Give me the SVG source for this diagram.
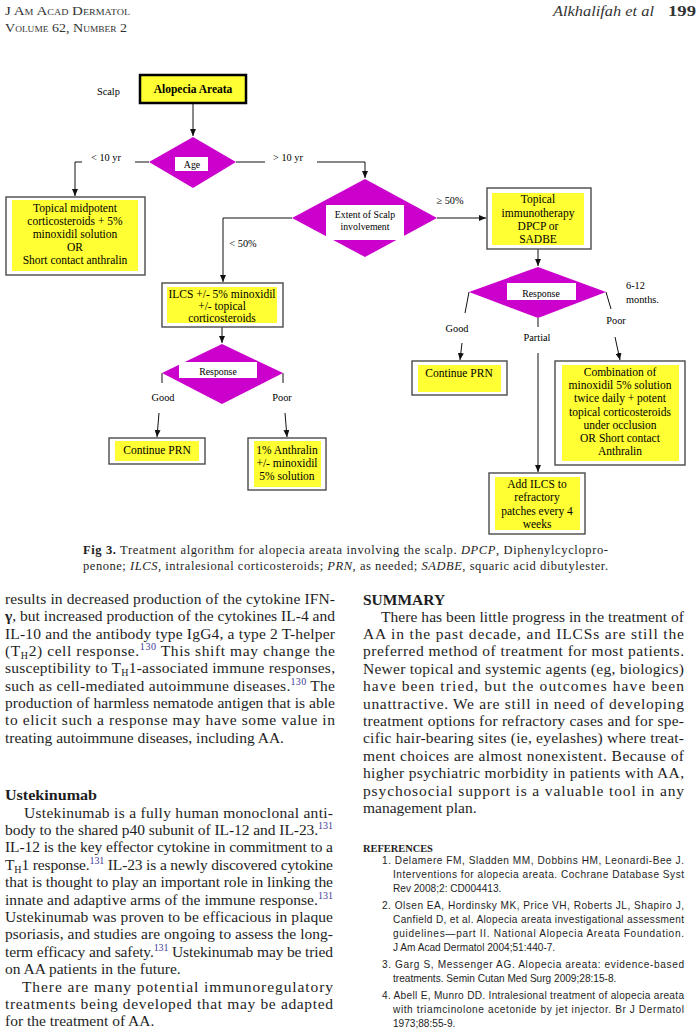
<svg xmlns="http://www.w3.org/2000/svg" width="700" height="1032" viewBox="0 0 700 1032">
<style>
.n{font-family:"Liberation Serif","Times New Roman",serif;font-size:11.5px;text-anchor:middle;fill:#000}
.dt{font-family:"Liberation Serif","Times New Roman",serif;font-size:9.8px;text-anchor:middle;fill:#000}
.lbl{font-family:"Liberation Serif","Times New Roman",serif;font-size:10.3px;fill:#000}
.box{fill:#fff;stroke:#4a4a4a;stroke-width:1.4}
.yel{fill:#ffff33}
.dia{fill:#cc00cc}
.inner{fill:#fff}
.c{fill:none;stroke:#111;stroke-width:1}
.ca{fill:none;stroke:#111;stroke-width:1;marker-end:url(#ah)}
.body{font-family:"Liberation Serif","Times New Roman",serif;font-size:15.5px;fill:#1e1e1e}
.ref{font-family:"Liberation Sans",Arial,sans-serif;font-size:10.1px;fill:#1e1e1e}
.cap{font-family:"Liberation Serif","Times New Roman",serif;font-size:12.5px;fill:#1e1e1e}
.hd{font-family:"Liberation Serif","Times New Roman",serif;fill:#333}
.sup{fill:#3c3c96;font-size:10px}
.sub{font-size:10px}
</style>
<defs>
<marker id="ah" markerUnits="userSpaceOnUse" markerWidth="7" markerHeight="6" refX="7" refY="3" orient="auto">
<path d="M0,0 L7,3 L0,6 z" fill="#111"/>
</marker>
</defs>
<rect width="700" height="1032" fill="#fff"/>

<!-- header -->
<g id="header">
<text class="hd" x="5" y="15" font-size="13.5" font-variant="small-caps" textLength="125" lengthAdjust="spacingAndGlyphs">J Am Acad Dermatol</text>
<text class="hd" x="5" y="32" font-size="13.5" font-variant="small-caps" textLength="122" lengthAdjust="spacingAndGlyphs">Volume 62, Number 2</text>
<text class="hd" x="553" y="16" font-size="14.5" font-style="italic" textLength="101" lengthAdjust="spacingAndGlyphs">Alkhalifah et al</text>
<text class="hd" x="668" y="16" font-size="14.5" font-weight="bold" textLength="28" lengthAdjust="spacingAndGlyphs">199</text>
</g>

<!-- connectors -->
<g id="connectors">
<path class="ca" d="M193,103 V136"/>
<path class="c" d="M149,162 H135"/>
<path class="ca" d="M82,162 H75 V196"/>
<path class="c" d="M236,162 H265"/>
<path class="ca" d="M317,162 H365 V178"/>
<path class="ca" d="M292,218 H223 V282"/>
<path class="ca" d="M437,218 H486"/>
<path class="ca" d="M538,249 V266"/>
<path class="c" d="M469,292 L465,313"/>
<path class="ca" d="M462,343 L460,360"/>
<path class="c" d="M538,318 V327"/>
<path class="ca" d="M538,353 V472"/>
<path class="c" d="M606,292 L611,309"/>
<path class="ca" d="M615,337 L620,360"/>
<path class="ca" d="M222,327 V343"/>
<path class="c" d="M162,373 V383"/>
<path class="ca" d="M159,413 L157,437"/>
<path class="c" d="M283,373 V383"/>
<path class="ca" d="M285,413 L287,437"/>
</g>

<!-- labels -->
<g id="labels">
<text class="lbl" x="97" y="95">Scalp</text>
<text class="lbl" x="106" y="160.5" text-anchor="middle">&lt; 10 yr</text>
<text class="lbl" x="288" y="160.5" text-anchor="middle">&gt; 10 yr</text>
<text class="lbl" x="243" y="247" text-anchor="middle">&lt; 50%</text>
<text class="lbl" x="450" y="204" text-anchor="middle">&#8805; 50%</text>
<text class="lbl" x="626" y="289">6-12</text>
<text class="lbl" x="626" y="303">months.</text>
<text class="lbl" x="457" y="331.5" text-anchor="middle">Good</text>
<text class="lbl" x="537" y="340.5" text-anchor="middle">Partial</text>
<text class="lbl" x="616" y="323.5" text-anchor="middle">Poor</text>
<text class="lbl" x="163" y="400.5" text-anchor="middle">Good</text>
<text class="lbl" x="282" y="400.5" text-anchor="middle">Poor</text>
</g>

<!-- nodes -->
<g id="alopecia-areata">
<rect x="140" y="75" width="106" height="28" fill="#ffff33" stroke="#000" stroke-width="2.5"/>
<text class="n" x="193" y="93" font-weight="bold">Alopecia Areata</text>
</g>

<g id="age">
<polygon class="dia" points="193,137 236,162 193,188 149,162"/>
<rect class="inner" x="175" y="157" width="33" height="14"/>
<text class="dt" x="192" y="167.5">Age</text>
</g>

<g id="topical-midpotent">
<rect class="box" x="6" y="197" width="139" height="78"/>
<rect class="yel" x="12" y="200" width="126" height="71"/>
<text class="n" x="75" y="212">Topical midpotent</text>
<text class="n" x="75" y="225">corticosteroids + 5%</text>
<text class="n" x="75" y="238">minoxidil solution</text>
<text class="n" x="75" y="251">OR</text>
<text class="n" x="75" y="264">Short contact anthralin</text>
</g>

<g id="extent">
<polygon class="dia" points="365,179 437,218 365,257 292,218"/>
<rect class="inner" x="326" y="205" width="78" height="35"/>
<text class="dt" x="365" y="218">Extent of Scalp</text>
<text class="dt" x="365" y="230">involvement</text>
</g>

<g id="topical-immunotherapy">
<rect class="box" x="487" y="188" width="104" height="61"/>
<rect class="yel" x="492" y="193" width="92" height="52"/>
<text class="n" x="538" y="203">Topical</text>
<text class="n" x="538" y="217">immunotherapy</text>
<text class="n" x="538" y="230">DPCP or</text>
<text class="n" x="538" y="243">SADBE</text>
</g>

<g id="response-right">
<polygon class="dia" points="538,267 606,292 538,318 469,292"/>
<rect class="inner" x="507" y="283" width="69" height="17"/>
<text class="dt" x="541" y="296.5" font-size="10.3">Response</text>
</g>

<g id="ilcs">
<rect class="box" x="162" y="283" width="121" height="44"/>
<rect class="yel" x="167" y="287" width="110" height="36"/>
<text class="n" x="222" y="298">ILCS +/- 5% minoxidil</text>
<text class="n" x="222" y="310">+/- topical</text>
<text class="n" x="222" y="322">corticosteroids</text>
</g>

<g id="response-left">
<polygon class="dia" points="222,344 283,373 222,404 162,373"/>
<rect class="inner" x="179" y="362" width="78" height="16"/>
<text class="dt" x="218" y="374.5" font-size="10.3">Response</text>
</g>

<g id="continue-prn-left">
<rect class="box" x="109" y="438" width="96" height="26"/>
<rect class="yel" x="115" y="441" width="84" height="20"/>
<text class="n" x="157" y="454">Continue PRN</text>
</g>

<g id="anthralin">
<rect class="box" x="248" y="438" width="78" height="52"/>
<rect class="yel" x="254" y="441" width="67" height="46"/>
<text class="n" x="287" y="454">1% Anthralin</text>
<text class="n" x="287" y="467">+/- minoxidil</text>
<text class="n" x="287" y="480">5% solution</text>
</g>

<g id="continue-prn-right">
<rect class="box" x="412" y="361" width="95" height="34"/>
<rect class="yel" x="418" y="365" width="83" height="27"/>
<text class="n" x="459" y="377">Continue PRN</text>
</g>

<g id="combination">
<rect class="box" x="555" y="361" width="130" height="104"/>
<rect class="yel" x="562" y="365" width="117" height="96"/>
<text class="n" x="620" y="376">Combination of</text>
<text class="n" x="620" y="389">minoxidil 5% solution</text>
<text class="n" x="620" y="402">twice daily + potent</text>
<text class="n" x="620" y="416">topical corticosteroids</text>
<text class="n" x="620" y="429">under occlusion</text>
<text class="n" x="620" y="442">OR Short contact</text>
<text class="n" x="620" y="455">Anthralin</text>
</g>

<g id="add-ilcs">
<rect class="box" x="489" y="473" width="96" height="61"/>
<rect class="yel" x="495" y="477" width="85" height="53"/>
<text class="n" x="537" y="488">Add ILCS to</text>
<text class="n" x="537" y="501">refractory</text>
<text class="n" x="537" y="515">patches every 4</text>
<text class="n" x="537" y="528">weeks</text>
</g>

<!-- caption -->
<g id="caption">
<text class="cap" x="83" y="554" textLength="525" lengthAdjust="spacing"><tspan font-weight="bold">Fig 3.</tspan> Treatment algorithm for alopecia areata involving the scalp. <tspan font-style="italic">DPCP</tspan>, Diphenylcyclopro-</text>
<text class="cap" x="83" y="570" textLength="525" lengthAdjust="spacing">penone; <tspan font-style="italic">ILCS</tspan>, intralesional corticosteroids; <tspan font-style="italic">PRN</tspan>, as needed; <tspan font-style="italic">SADBE</tspan>, squaric acid dibutylester.</text>
</g>

<!-- left column -->
<g id="left-column">
<text class="body" x="5" y="604" textLength="330" lengthAdjust="spacing">results in decreased production of the cytokine IFN-</text>
<text class="body" x="5" y="621.4" textLength="330" lengthAdjust="spacing"><tspan font-weight="bold">γ</tspan>, but increased production of the cytokines IL-4 and</text>
<text class="body" x="5" y="638.7" textLength="330" lengthAdjust="spacing">IL-10 and the antibody type IgG4, a type 2 T-helper</text>
<text class="body" x="5" y="656" textLength="330" lengthAdjust="spacing">(T<tspan class="sub" dy="3">H</tspan><tspan dy="-3">2) cell response.</tspan><tspan class="sup" dy="-6">130</tspan><tspan dy="6"> This shift may change the</tspan></text>
<text class="body" x="5" y="673.4" textLength="330" lengthAdjust="spacing">susceptibility to T<tspan class="sub" dy="3">H</tspan><tspan dy="-3">1-associated immune responses,</tspan></text>
<text class="body" x="5" y="690.7" textLength="330" lengthAdjust="spacing">such as cell-mediated autoimmune diseases.<tspan class="sup" dy="-6">130</tspan><tspan dy="6"> The</tspan></text>
<text class="body" x="5" y="708" textLength="330" lengthAdjust="spacing">production of harmless nematode antigen that is able</text>
<text class="body" x="5" y="725.4" textLength="330" lengthAdjust="spacing">to elicit such a response may have some value in</text>
<text class="body" x="5" y="742.8">treating autoimmune diseases, including AA.</text>

<text class="body" x="5" y="800" font-weight="bold" textLength="92" lengthAdjust="spacingAndGlyphs">Ustekinumab</text>
<text class="body" x="24" y="817.5" textLength="309" lengthAdjust="spacing">Ustekinumab is a fully human monoclonal anti-</text>
<text class="body" x="5" y="834.9" textLength="328" lengthAdjust="spacing">body to the shared p40 subunit of IL-12 and IL-23.<tspan class="sup" dy="-6">131</tspan></text>
<text class="body" x="5" y="852.3" textLength="328" lengthAdjust="spacing">IL-12 is the key effector cytokine in commitment to a</text>
<text class="body" x="5" y="869.7" textLength="328" lengthAdjust="spacing">T<tspan class="sub" dy="3">H</tspan><tspan dy="-3">1 response.</tspan><tspan class="sup" dy="-6">131</tspan><tspan dy="6"> IL-23 is a newly discovered cytokine</tspan></text>
<text class="body" x="5" y="887.1" textLength="328" lengthAdjust="spacing">that is thought to play an important role in linking the</text>
<text class="body" x="5" y="904.5" textLength="328" lengthAdjust="spacing">innate and adaptive arms of the immune response.<tspan class="sup" dy="-6">131</tspan></text>
<text class="body" x="5" y="921.9" textLength="328" lengthAdjust="spacing">Ustekinumab was proven to be efficacious in plaque</text>
<text class="body" x="5" y="939.3" textLength="328" lengthAdjust="spacing">psoriasis, and studies are ongoing to assess the long-</text>
<text class="body" x="5" y="956.7" textLength="328" lengthAdjust="spacing">term efficacy and safety.<tspan class="sup" dy="-6">131</tspan><tspan dy="6"> Ustekinumab may be tried</tspan></text>
<text class="body" x="5" y="974.1">on AA patients in the future.</text>
<text class="body" x="22" y="991.5" textLength="311" lengthAdjust="spacing">There are many potential immunoregulatory</text>
<text class="body" x="5" y="1008.9" textLength="328" lengthAdjust="spacing">treatments being developed that may be adapted</text>
<text class="body" x="5" y="1026.3">for the treatment of AA.</text>
</g>

<!-- right column -->
<g id="right-column">
<text class="body" x="363" y="605" font-weight="bold" font-size="14.6">SUMMARY</text>
<text class="body" x="381" y="621.5" textLength="303" lengthAdjust="spacing">There has been little progress in the treatment of</text>
<text class="body" x="363" y="638.9" textLength="321" lengthAdjust="spacing">AA in the past decade, and ILCSs are still the</text>
<text class="body" x="363" y="656.3" textLength="321" lengthAdjust="spacing">preferred method of treatment for most patients.</text>
<text class="body" x="363" y="673.7" textLength="321" lengthAdjust="spacing">Newer topical and systemic agents (eg, biologics)</text>
<text class="body" x="363" y="691.1" textLength="321" lengthAdjust="spacing">have been tried, but the outcomes have been</text>
<text class="body" x="363" y="708.5" textLength="321" lengthAdjust="spacing">unattractive. We are still in need of developing</text>
<text class="body" x="363" y="725.9" textLength="321" lengthAdjust="spacing">treatment options for refractory cases and for spe-</text>
<text class="body" x="363" y="743.3" textLength="321" lengthAdjust="spacing">cific hair-bearing sites (ie, eyelashes) where treat-</text>
<text class="body" x="363" y="760.7" textLength="321" lengthAdjust="spacing">ment choices are almost nonexistent. Because of</text>
<text class="body" x="363" y="778.1" textLength="321" lengthAdjust="spacing">higher psychiatric morbidity in patients with AA,</text>
<text class="body" x="363" y="795.5" textLength="321" lengthAdjust="spacing">psychosocial support is a valuable tool in any</text>
<text class="body" x="363" y="812.9">management plan.</text>
</g>

<!-- references -->
<g id="references">
<text x="363" y="852" font-family="Liberation Serif, Times New Roman, serif" font-weight="bold" font-size="10.4" fill="#1e1e1e">REFERENCES</text>
<text class="ref" x="382" y="864" textLength="302" lengthAdjust="spacing">1. Delamere FM, Sladden MM, Dobbins HM, Leonardi-Bee J.</text>
<text class="ref" x="393" y="878" textLength="291" lengthAdjust="spacing">Interventions for alopecia areata. Cochrane Database Syst</text>
<text class="ref" x="393" y="892">Rev 2008;2: CD004413.</text>
<text class="ref" x="382" y="909" textLength="302" lengthAdjust="spacing">2. Olsen EA, Hordinsky MK, Price VH, Roberts JL, Shapiro J,</text>
<text class="ref" x="393" y="923" textLength="291" lengthAdjust="spacing">Canfield D, et al. Alopecia areata investigational assessment</text>
<text class="ref" x="393" y="937" textLength="291" lengthAdjust="spacing">guidelines—part II. National Alopecia Areata Foundation.</text>
<text class="ref" x="393" y="951">J Am Acad Dermatol 2004;51:440-7.</text>
<text class="ref" x="382" y="968" textLength="302" lengthAdjust="spacing">3. Garg S, Messenger AG. Alopecia areata: evidence-based</text>
<text class="ref" x="393" y="982">treatments. Semin Cutan Med Surg 2009;28:15-8.</text>
<text class="ref" x="382" y="999" textLength="302" lengthAdjust="spacing">4. Abell E, Munro DD. Intralesional treatment of alopecia areata</text>
<text class="ref" x="393" y="1013" textLength="291" lengthAdjust="spacing">with triamcinolone acetonide by jet injector. Br J Dermatol</text>
<text class="ref" x="393" y="1027">1973;88:55-9.</text>
</g>
</svg>
